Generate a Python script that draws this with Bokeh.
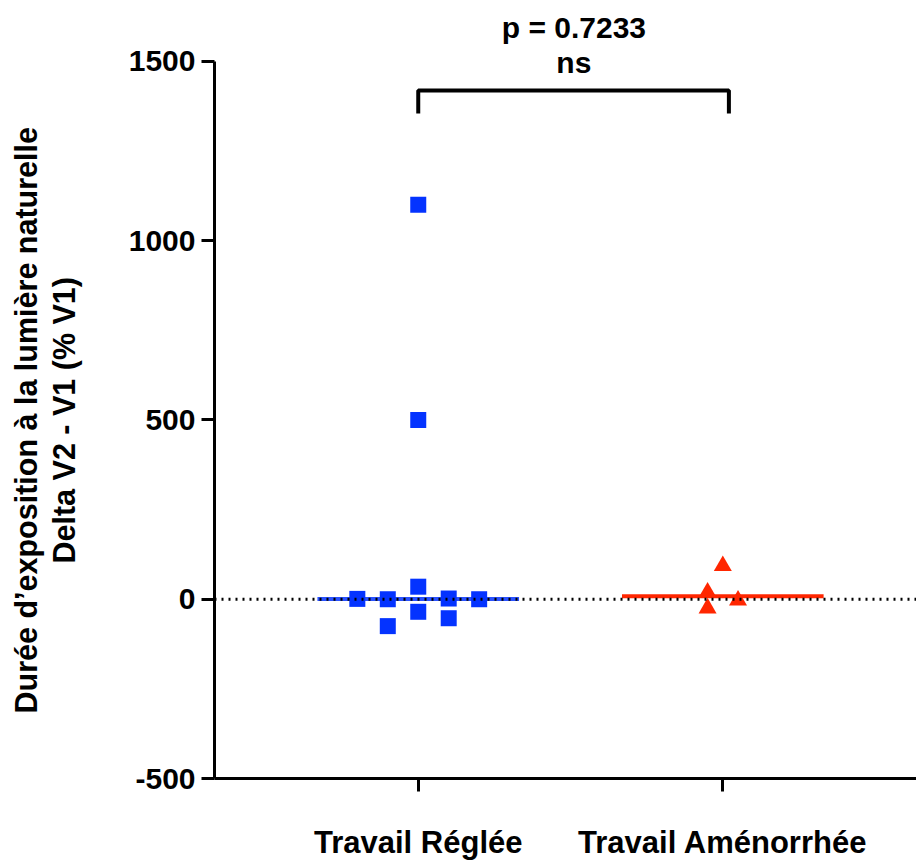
from bokeh.plotting import figure
from bokeh.models import Range1d, FixedTicker, Span, Label, Title
from bokeh.embed import file_html
from bokeh.resources import INLINE

# ---- data ----
groups = ["Travail Réglée", "Travail Aménorrhée"]
blue_values = [1, 0, -75, 1100, 500, 35, -35, 2, -53, 0]
blue_slots = [-2, -1, -1, 0, 0, 0, 0, 1, 1, 2]
red_values = [19, -25, 93, -3]
red_slots = [-1, -1, 0, 1]
y_ticks = [-500, 0, 500, 1000, 1500]
p_text = "p = 0.7233"
sig_text = "ns"
y_label_1 = "Durée d’exposition à la lumière naturelle"
y_label_2 = "Delta V2 - V1 (% V1)"

BLUE = "#0433FF"
RED = "#FF2600"
FONT = "Liberation Sans"
FS = "30px"


def median(vals):
    s = sorted(vals)
    n = len(s)
    return s[n // 2] if n % 2 else (s[n // 2 - 1] + s[n // 2]) / 2


p = figure(width=916, height=863, output_backend="svg", toolbar_location=None,
           x_range=Range1d(0.331, 2.636), y_range=Range1d(-500, 1670),
           min_border_left=213, min_border_right=0, min_border_top=0,
           min_border_bottom=85)
p.outline_line_color = None
p.grid.visible = False
p.background_fill_color = "white"

for ax in (p.xaxis[0], p.yaxis[0]):
    ax.axis_line_width = 3
    ax.axis_line_color = "black"
    ax.major_tick_line_width = 3
    ax.major_tick_line_color = "black"
    ax.major_tick_out = 13
    ax.major_tick_in = 0
    ax.minor_tick_line_color = None
    ax.major_label_text_font = FONT
    ax.major_label_text_font_style = "bold"
    ax.major_label_text_font_size = FS
    ax.major_label_text_color = "black"

yax = p.yaxis[0]
yax.ticker = FixedTicker(ticks=y_ticks)
yax.bounds = (y_ticks[0], y_ticks[-1])
yax.major_label_standoff = 6
yax.major_label_overrides = {t: str(t) for t in y_ticks}

xax = p.xaxis[0]
xax.ticker = FixedTicker(ticks=[1, 2])
xax.major_label_overrides = {1: groups[0], 2: groups[1]}
xax.major_label_standoff = 33
xax.major_label_text_font_size = "31px"


def ytitle(text, offset, standoff):
    return Title(text=text, align="left", offset=offset, standoff=standoff,
                 text_font=FONT, text_font_style="bold", text_font_size="30.5px",
                 text_color="black")


p.add_layout(ytitle(y_label_2, 215, 89), "left")
p.add_layout(ytitle(y_label_1, 65, -84), "left")

p.add_layout(Span(location=0, dimension="width", line_color="black",
                  line_width=3, line_dash="2 5"))

half = 0.331
bm = median(blue_values)
rm = median(red_values)
p.line([1 - half, 1 + half], [bm, bm], line_color=BLUE, line_width=4, line_alpha=0.85)
p.line([2 - half, 2 + half], [rm, rm], line_color=RED, line_width=4)

bx = [1 + 0.1 * s for s in blue_slots]
rx = [2 + 0.05 * s for s in red_slots]
p.scatter(bx, blue_values, marker="square", size=16, fill_color=BLUE, line_color=None)
p.scatter(rx, red_values, marker="triangle", size=18, fill_color=RED, line_color=None)

p.line([1, 1, 2.02, 2.02], [1355, 1419, 1419, 1355], line_color="black", line_width=4)


def lab(x, y, text):
    return Label(x=x, y=y, text=text, text_align="center",
                 text_baseline="middle", text_font=FONT, text_font_style="bold",
                 text_font_size=FS, text_color="black")


p.add_layout(lab(1.511, 1595, p_text))
p.add_layout(lab(1.511, 1497, sig_text))

open("out.html", "w").write(file_html(p, INLINE))
